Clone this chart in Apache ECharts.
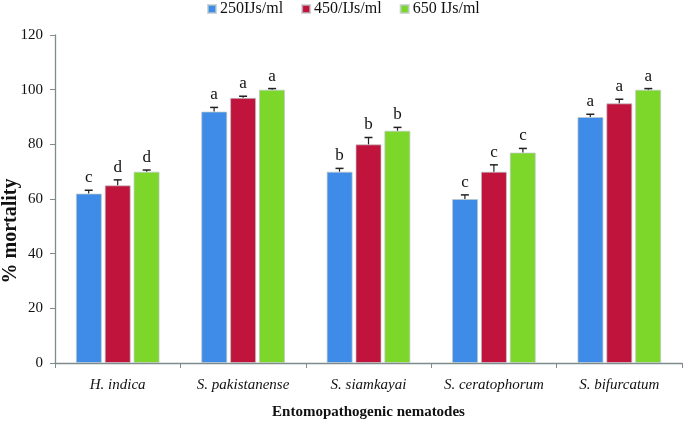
<!DOCTYPE html>
<html><head><meta charset="utf-8">
<script src="https://cdn.jsdelivr.net/npm/echarts@6/dist/echarts.min.js"></script>
<style>html,body{margin:0;padding:0;background:#fff}#c{width:685px;height:424px}</style>
</head><body><div id="c"></div>
<script>
var categories = ['H. indica', 'S. pakistanense', 'S. siamkayai', 'S. ceratophorum', 'S. bifurcatum'];
var seriesNames = ['250IJs/ml', '450/IJs/ml', '650 IJs/ml'];
var s250 = [62, 92, 70, 60, 90];
var s450 = [65, 97, 80, 70, 95];
var s650 = [70, 100, 85, 77, 100];
var e250 = [1.2, 1.5, 1.2, 1.5, 1.0];
var e450 = [2.0, 0.6, 2.5, 2.5, 1.5];
var e650 = [0.6, 0.4, 1.2, 1.5, 0.4];
var l250 = ['c', 'a', 'b', 'c', 'a'];
var l450 = ['d', 'a', 'b', 'c', 'a'];
var l650 = ['d', 'a', 'b', 'c', 'a'];
var yTicks = [0, 20, 40, 60, 80, 100, 120];
var yTitle = '% mortality';

var colors = ['#3f8ce8', '#c0143c', '#7dd62a'];
var values = [s250, s450, s650];
var errs = [e250, e450, e650];
var letters = [l250, l450, l650];
var BAR_W = 26, GAP = 3;

var chart = echarts.init(document.getElementById('c'));
var series = [];
for (var k = 0; k < 3; k++) {
  series.push({
    name: seriesNames[k], type: 'bar', data: values[k], barWidth: BAR_W, barGap: '11%',
    itemStyle: { color: colors[k], borderColor: 'rgba(190,200,200,0.7)', borderWidth: 1 }
  });
}
for (var k2 = 0; k2 < 3; k2++) {
  (function (k) {
    series.push({
      type: 'custom', silent: true, z: 5,
      data: values[k].map(function (v, i) { return [i, v, errs[k][i], letters[k][i]]; }),
      renderItem: function (params, api) {
        var i = api.value(0), v = api.value(1), e = api.value(2);
        var off = (k - 1) * (BAR_W + GAP);
        var top = api.coord([i, v + e]);
        var base = api.coord([i, v]);
        var x = top[0] + off;
        return { type: 'group', children: [
          { type: 'line', shape: { x1: x, y1: base[1], x2: x, y2: top[1] }, style: { stroke: '#222', lineWidth: 1.2 } },
          { type: 'line', shape: { x1: x - 4, y1: top[1], x2: x + 4, y2: top[1] }, style: { stroke: '#222', lineWidth: 1.5 } },
          { type: 'text', x: x, y: top[1] - 4, style: { text: letters[k][i], fill: '#111', font: '17px "Liberation Serif"', textAlign: 'center', textVerticalAlign: 'bottom' } }
        ]};
      }
    });
  })(k2);
}

chart.setOption({
  animation: false,
  color: colors,
  legend: {
    data: seriesNames, top: -4, left: 202, icon: 'rect', itemWidth: 8, itemHeight: 8, itemGap: 18,
    textStyle: { fontFamily: 'Liberation Serif', fontSize: 16, color: '#111', padding: [0, 0, 0, -1] }
  },
  grid: { left: 55, right: 3, top: 35, bottom: 61, outerBoundsMode: 'none', containLabel: false },
  graphic: [{
    type: 'text', x: 11, y: 231, rotation: Math.PI / 2,
    style: { text: yTitle, fill: '#111', font: 'bold 20px "Liberation Serif"', textAlign: 'center', textVerticalAlign: 'middle' }
  }],
  xAxis: {
    type: 'category', data: categories,
    name: 'Entomopathogenic nematodes', nameLocation: 'middle', nameGap: 42, nameMoveOverlap: false,
    nameTextStyle: { fontFamily: 'Liberation Serif', fontWeight: 'bold', fontSize: 15, color: '#111' },
    axisLine: { lineStyle: { color: '#7f8c8c', width: 1.3 } },
    axisTick: { show: true, length: 5, lineStyle: { color: '#7f8c8c' } },
    axisLabel: { interval: 0, fontFamily: 'Liberation Serif', fontStyle: 'italic', fontSize: 15, color: '#111', margin: 15 }
  },
  yAxis: {
    type: 'value', min: 0, max: 120, interval: 20,
    axisLine: { show: true, lineStyle: { color: '#7f8c8c', width: 1.3 } },
    axisTick: { show: true, length: 5, lineStyle: { color: '#7f8c8c' } },
    splitLine: { show: false },
    axisLabel: { fontFamily: 'Liberation Serif', fontSize: 15, color: '#111', margin: 12,
      formatter: function (v) { return yTicks.indexOf(v) >= 0 ? String(v) : ''; } }
  },
  series: series
});
</script></body></html>
